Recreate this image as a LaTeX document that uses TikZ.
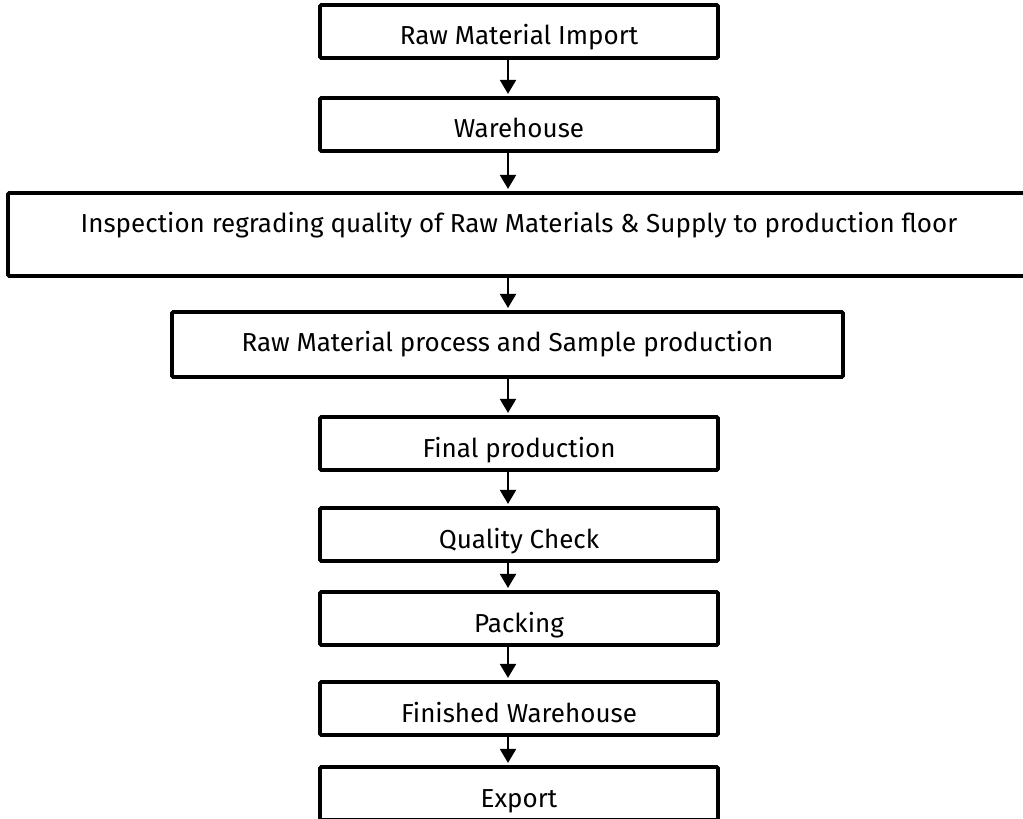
\documentclass[tikz,border=0pt]{standalone}
\usepackage{fontspec}
\setmainfont{Fira Sans}
\usetikzlibrary{arrows.meta}

\tikzset{
  stage/.style={draw=black, line width=2.8pt, rounded corners=1pt, inner sep=0pt,
    anchor=base, minimum width=9.95cm, text height=1cm, text depth=0.325cm,
    font=\fontsize{18.5}{21}\selectfont},
  flow/.style={-{Triangle[width=0.4cm,length=0.35cm]}, line width=1.5pt, shorten >=1.5pt}
}

\begin{document}
\begin{tikzpicture}
    \useasboundingbox (0,0) rectangle (25.575,-20.475);
    \clip (0,0) rectangle (25.575,-20.475);
    \coordinate (spine) at (12.7,0);
    % process stages, top to bottom
    \node[stage] (import) at (12.975,-1.125) {Raw Material Import};
    \node[stage] (store) at (12.975,-3.45) {Warehouse};
    \node[stage, minimum width=25.55cm, text depth=1.075cm] (inspect) at (12.975,-5.825)
        {Inspection regrading quality of Raw Materials \& Supply to production floor};
    \node[stage, minimum width=16.775cm, text depth=0.625cm] (sample) at (12.6875,-8.8)
        {Raw Material process and Sample production};
    \node[stage] (final) at (12.975,-11.425) {Final production};
    \node[stage] (check) at (12.975,-13.7) {Quality Check};
    \node[stage] (pack) at (12.975,-15.8) {Packing};
    \node[stage] (finstore) at (12.975,-18.05) {Finished Warehouse};
    \node[stage] (export) at (12.975,-20.175) {Export};
    % arrows
    \draw[flow] (import.south -| spine) -- (store.north -| spine);
    \draw[flow] (store.south -| spine) -- (inspect.north -| spine);
    \draw[flow] (inspect.south -| spine) -- (sample.north -| spine);
    \draw[flow] (sample.south -| spine) -- (final.north -| spine);
    \draw[flow] (final.south -| spine) -- (check.north -| spine);
    \draw[flow] (check.south -| spine) -- (pack.north -| spine);
    \draw[flow] (pack.south -| spine) -- (finstore.north -| spine);
    \draw[flow] (finstore.south -| spine) -- (export.north -| spine);
\end{tikzpicture}
\end{document}
